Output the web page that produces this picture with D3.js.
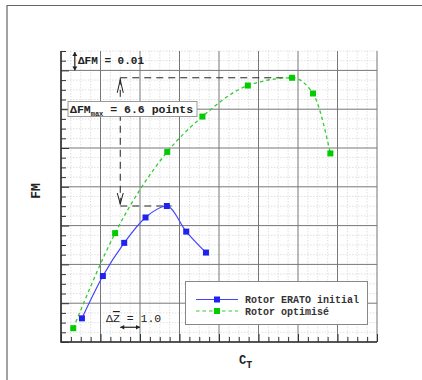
<!DOCTYPE html>
<html>
<head>
<meta charset="utf-8">
<script src="https://cdn.jsdelivr.net/npm/d3@7"></script>
<style>
  body { margin: 0; background: #fff; }
  svg { display: block; }
</style>
</head>
<body>
<div id="chart"></div>
<script>
// C_T (arbitrary units, one major grid cell = 1) and FM values
const eratoCT = [0.53, 1.06, 1.60, 2.14, 2.68, 3.17, 3.67];
const eratoFM = [0.6122, 0.6340, 0.6511, 0.6642, 0.6701, 0.6569, 0.6461];
const optiCT = [0.31, 1.37, 2.69, 3.58, 4.73, 5.85, 6.38, 6.82];
const optiFM = [0.6071, 0.6561, 0.6980, 0.7162, 0.7322, 0.7362, 0.7281, 0.6972];
const seriesNames = ['Rotor ERATO initial', 'Rotor optimisé'];
const xDomain = [0, 8];
const yDomain = [0.60, 0.75];

const width = 422, height = 380;
const margin = { left: 61, right: 45, top: 51, bottom: 38 };

const svg = d3.select('#chart').append('svg')
  .attr('width', width)
  .attr('height', height);

// outer frame
svg.append('path')
  .attr('d', 'M7,380V5.5H422')
  .attr('fill', 'none')
  .attr('stroke', '#666')
  .attr('stroke-width', 1.2);

const x = d3.scaleLinear().domain(xDomain).range([margin.left, width - margin.right]);
const y = d3.scaleLinear().domain(yDomain).range([height - margin.bottom, margin.top]);

const xMajor = d3.range(0, 8.001, 1);
const xMinor = d3.range(0, 8.001, 0.25).filter(v => Math.abs(v - Math.round(v)) > 1e-6);
const yMajor = d3.range(0.60, 0.7401, 0.02);
const yMinor = d3.range(0.60, 0.7501, 0.005).filter(v => !yMajor.some(m => Math.abs(m - v) < 1e-6));

const grid = svg.append('g');
grid.selectAll('.vminor').data(xMinor).enter().append('line')
  .attr('x1', d => x(d)).attr('x2', d => x(d))
  .attr('y1', y(0.75)).attr('y2', y(0.60))
  .attr('stroke', '#d8d8d8').attr('stroke-dasharray', '1.5,1.5').attr('stroke-width', 0.8);
grid.selectAll('.hminor').data(yMinor).enter().append('line')
  .attr('x1', x(0)).attr('x2', x(8))
  .attr('y1', d => y(d)).attr('y2', d => y(d))
  .attr('stroke', '#d8d8d8').attr('stroke-dasharray', '1.5,1.5').attr('stroke-width', 0.8);
grid.selectAll('.vmajor').data(xMajor).enter().append('line')
  .attr('x1', d => x(d)).attr('x2', d => x(d))
  .attr('y1', y(0.75)).attr('y2', y(0.60))
  .attr('stroke', '#777').attr('stroke-width', 1);
grid.selectAll('.hmajor').data(yMajor).enter().append('line')
  .attr('x1', x(0)).attr('x2', x(8))
  .attr('y1', d => y(d)).attr('y2', d => y(d))
  .attr('stroke', '#777').attr('stroke-width', 1);

// axes: ticks pointing inward, no labels
const xAxisMinor = d3.axisTop(x).tickValues(xMinor).tickSize(5).tickFormat('');
const xAxisMajor = d3.axisTop(x).tickValues(xMajor).tickSize(8).tickFormat('');
const yAxisMinor = d3.axisRight(y).tickValues(yMinor).tickSize(5).tickFormat('');
const yAxisMajor = d3.axisRight(y).tickValues(yMajor).tickSize(8).tickFormat('');
[xAxisMinor, xAxisMajor].forEach(ax => {
  svg.append('g').attr('transform', `translate(0,${y(0.60)})`).call(ax)
    .call(g => g.select('.domain').remove())
    .call(g => g.selectAll('line').attr('stroke', '#333'));
});
[yAxisMinor, yAxisMajor].forEach(ax => {
  svg.append('g').attr('transform', `translate(${x(0)},0)`).call(ax)
    .call(g => g.select('.domain').remove())
    .call(g => g.selectAll('line').attr('stroke', '#333'));
});
svg.append('path')
  .attr('d', `M${x(0)},${y(0.75)}V${y(0.60)}H${x(8)}`)
  .attr('fill', 'none').attr('stroke', '#333').attr('stroke-width', 1.6);

// annotation lines
const topFM = d3.max(optiFM), botFM = d3.max(eratoFM);
const topCT = optiCT[optiFM.indexOf(topFM)], botCT = eratoCT[eratoFM.indexOf(botFM)];
const ann = svg.append('g').attr('stroke', '#222').attr('fill', 'none');
ann.append('line').attr('x1', x(1.5)).attr('x2', x(topCT)).attr('y1', y(topFM)).attr('y2', y(topFM))
  .attr('stroke-dasharray', '7,5');
ann.append('line').attr('x1', x(1.5)).attr('x2', x(botCT + 0.12)).attr('y1', y(botFM)).attr('y2', y(botFM))
  .attr('stroke-dasharray', '7,5');
ann.append('line').attr('x1', x(1.5)).attr('x2', x(1.5)).attr('y1', y(topFM)).attr('y2', y(botFM))
  .attr('stroke-dasharray', '7,5');
// open arrowheads
ann.append('path')
  .attr('d', `M${x(1.5) - 3},${y(topFM) + 15}L${x(1.5)},${y(topFM) + 2}L${x(1.5) + 3},${y(topFM) + 15}`);
ann.append('path')
  .attr('d', `M${x(1.5) - 3},${y(botFM) - 13}L${x(1.5)},${y(botFM) - 2}L${x(1.5) + 3},${y(botFM) - 13}`);

// ΔFM = 0.01 marker
const dX = x(0.35);
ann.append('line').attr('x1', dX).attr('x2', dX).attr('y1', y(0.75) + 1).attr('y2', y(0.74))
  .attr('stroke-width', 1.2);
ann.append('path').attr('fill', '#222').attr('stroke', 'none')
  .attr('d', `M${dX - 2.5},${y(0.75) + 5}L${dX},${y(0.75) + 1}L${dX + 2.5},${y(0.75) + 5}Z M${dX - 2.5},${y(0.74) - 4}L${dX},${y(0.74)}L${dX + 2.5},${y(0.74) - 4}Z`);

// ΔZ = 1.0 marker
const zY = y(0.6076);
ann.append('line').attr('x1', x(1.5)).attr('x2', x(2)).attr('y1', zY).attr('y2', zY).attr('stroke-width', 1.2);
ann.append('path').attr('fill', '#222').attr('stroke', 'none')
  .attr('d', `M${x(1.5) + 4},${zY - 2.2}L${x(1.5)},${zY}L${x(1.5) + 4},${zY + 2.2}Z M${x(2) - 4},${zY - 2.2}L${x(2)},${zY}L${x(2) - 4},${zY + 2.2}Z`);

const mono = '"Liberation Mono", "DejaVu Sans Mono", monospace';

svg.append('text').attr('x', 78).attr('y', 64)
  .attr('font-family', mono).attr('font-size', 11).attr('font-weight', 'bold').attr('fill', '#222')
  .text('ΔFM = 0.01');

const zt = svg.append('text').attr('x', 106).attr('y', 322)
  .attr('font-family', mono).attr('font-size', 11.5).attr('fill', '#222');
zt.append('tspan').text('Δ');
zt.append('tspan').attr('text-decoration', 'overline').text('Z');
zt.append('tspan').text(' = 1.0');

// ΔFMmax box
svg.append('rect').attr('x', 68).attr('y', 101.5).attr('width', 129).attr('height', 15)
  .attr('fill', '#fff').attr('stroke', '#999').attr('stroke-width', 1);
const bt = svg.append('text').attr('x', 70).attr('y', 113)
  .attr('font-family', mono).attr('font-size', 11.5).attr('font-weight', 'bold').attr('fill', '#222');
bt.append('tspan').text('ΔFM');
bt.append('tspan').attr('dy', 3).attr('font-size', 7).text('max');
bt.append('tspan').attr('dy', -3).text(' = 6.6 points');

// series
const eratoData = eratoCT.map((c, i) => [c, eratoFM[i]]);
const optiData = optiCT.map((c, i) => [c, optiFM[i]]);
const line = d3.line().x(d => x(d[0])).y(d => y(d[1])).curve(d3.curveMonotoneX);

svg.append('path').datum(optiData).attr('d', line)
  .attr('fill', 'none').attr('stroke', '#33cc33').attr('stroke-width', 1.3).attr('stroke-dasharray', '3.5,3');
svg.append('path').datum(eratoData).attr('d', line)
  .attr('fill', 'none').attr('stroke', '#4444ff').attr('stroke-width', 1.2);

svg.selectAll('.mo').data(optiData).enter().append('rect')
  .attr('x', d => x(d[0]) - 3).attr('y', d => y(d[1]) - 3)
  .attr('width', 6).attr('height', 6).attr('fill', '#00cc00');
svg.selectAll('.me').data(eratoData).enter().append('rect')
  .attr('x', d => x(d[0]) - 3).attr('y', d => y(d[1]) - 3)
  .attr('width', 6).attr('height', 6).attr('fill', '#2222ee');

// legend
const lg = svg.append('g');
lg.append('rect').attr('x', 185.5).attr('y', 281.5).attr('width', 182).attr('height', 43)
  .attr('fill', '#fff').attr('stroke', '#888');
const legendColors = ['#4444ff', '#33cc33'];
const markColors = ['#2222ee', '#00cc00'];
seriesNames.forEach((name, i) => {
  const ly = 299.5 + i * 11.5;
  lg.append('line').attr('x1', 196).attr('x2', 238).attr('y1', ly).attr('y2', ly)
    .attr('stroke', legendColors[i]).attr('stroke-width', 1.2)
    .attr('stroke-dasharray', i === 1 ? '3.5,3' : null);
  lg.append('rect').attr('x', 214).attr('y', ly - 3).attr('width', 6).attr('height', 6).attr('fill', markColors[i]);
  lg.append('text').attr('x', 245).attr('y', ly + 3.5)
    .attr('font-family', mono).attr('font-size', 10).attr('font-weight', 'bold').attr('fill', '#333')
    .text(name);
});

// axis titles
svg.append('text').attr('transform', 'translate(40,191) rotate(-90)')
  .attr('text-anchor', 'middle')
  .attr('font-family', mono).attr('font-size', 13).attr('font-weight', 'bold').attr('fill', '#222')
  .text('FM');
const ct = svg.append('text').attr('x', 239).attr('y', 364)
  .attr('font-family', mono).attr('font-size', 12).attr('font-weight', 'bold').attr('fill', '#222');
ct.append('tspan').text('C');
ct.append('tspan').attr('dy', 4).attr('font-size', 10).text('T');
</script>
</body>
</html>
